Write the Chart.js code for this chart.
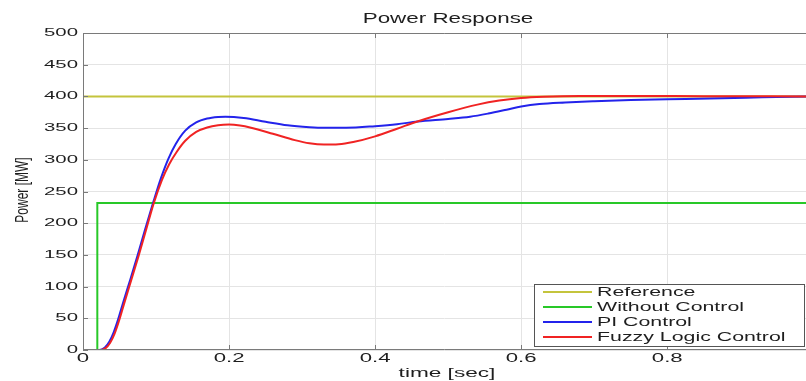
<!DOCTYPE html>
<html>
<head>
<meta charset="utf-8">
<script src="https://cdn.jsdelivr.net/npm/chart.js@4/dist/chart.umd.min.js"></script>
<style>
  body { margin: 0; background: #fff; }
  canvas { display: block; }
</style>
</head>
<body>
<canvas id="powerChart" width="806" height="381"></canvas>
<script>
'use strict';

// series (time in sec, power in MW)
const refTime = [0, 0.99];
const refPower = [400, 400];

const noCtrlTime = [0, 0.0196, 0.0196, 0.99];
const noCtrlPower = [0, 0, 232, 232];

const piTime = [0, 0.022, 0.03, 0.036, 0.042, 0.048, 0.055, 0.065, 0.075, 0.085, 0.097, 0.107, 0.117, 0.127, 0.14,
    0.155, 0.17, 0.185, 0.195, 0.22, 0.25, 0.28, 0.31, 0.33, 0.36, 0.4, 0.43, 0.458, 0.5, 0.53, 0.555, 0.58, 0.6,
    0.625, 0.66, 0.7, 0.75, 0.8, 0.875, 0.93, 0.99];
const piPower = [0, 0, 4, 13, 28, 48, 75, 112, 150, 190, 236, 272, 302, 325, 346,
    359, 365, 367.5, 368, 366, 360, 354.5, 351.5, 350.5, 350.5, 353, 356, 360.5, 364.5, 368, 373, 379, 384,
    388, 390.5, 392.5, 394.5, 395.5, 397, 398.5, 400];

const fuzzyTime = [0, 0.024, 0.031, 0.037, 0.043, 0.049, 0.056, 0.066, 0.076, 0.086, 0.097, 0.108, 0.118, 0.128, 0.14,
    0.155, 0.17, 0.185, 0.2, 0.215, 0.23, 0.26, 0.29, 0.31, 0.33, 0.35, 0.37, 0.4, 0.43, 0.458, 0.5, 0.54, 0.57,
    0.6, 0.63, 0.68, 0.75, 0.85, 0.99];
const fuzzyPower = [0, 0, 3, 11, 25, 45, 72, 110, 148, 188, 232, 268, 293, 312, 330,
    344, 351, 354.5, 355.5, 354, 350.5, 341, 331, 326, 324, 324.5, 328, 337, 349, 360.5, 375, 387, 393.5,
    397.5, 399.5, 400.8, 400.8, 400.2, 400];

const yTickLabels = ['0', '50', '100', '150', '200', '250', '300', '350', '400', '450', '500'];
const xTickLabels = ['0', '0.2', '0.4', '0.6', '0.8'];

const seriesNames = ['Reference', 'Without Control', 'PI Control', 'Fuzzy Logic Control'];
const seriesColors = ['rgb(196, 196, 60)', 'rgb(40, 200, 40)', 'rgb(35, 35, 235)', 'rgb(240, 35, 35)'];

function toPoints(times, values) {
    return times.map((t, i) => ({ x: t, y: values[i] }));
}

const FONT = '"Liberation Sans", Arial, sans-serif';

// text in the source picture is stretched sideways, so draw it scaled
function stretchText(ctx, text, x, y, size, sx, sy, align, rotate) {
    ctx.save();
    ctx.translate(x, y);
    if (rotate) ctx.rotate(rotate);
    ctx.scale(sx, sy);
    ctx.font = size + 'px ' + FONT;
    ctx.textAlign = align;
    ctx.textBaseline = 'middle';
    ctx.fillStyle = '#1e1e1e';
    ctx.fillText(text, 0, 0);
    ctx.restore();
}

const frameAndText = {
    id: 'frameAndText',
    afterDraw(chart) {
        const ctx = chart.ctx;
        const area = chart.chartArea;
        const xs = chart.scales.x;
        const ys = chart.scales.y;

        // axes box and inward ticks
        ctx.save();
        ctx.strokeStyle = '#7a7a7a';
        ctx.lineWidth = 1;
        ctx.beginPath();
        ctx.moveTo(area.right, area.top + 0.5);
        ctx.lineTo(area.left + 0.5, area.top + 0.5);
        ctx.lineTo(area.left + 0.5, area.bottom - 0.5);
        ctx.lineTo(area.right, area.bottom - 0.5);
        for (let i = 0; i < xTickLabels.length; i++) {
            const px = Math.round(xs.getPixelForValue(parseFloat(xTickLabels[i]))) + 0.5;
            ctx.moveTo(px, area.bottom);
            ctx.lineTo(px, area.bottom - 5);
            ctx.moveTo(px, area.top);
            ctx.lineTo(px, area.top + 5);
        }
        for (let i = 0; i < yTickLabels.length; i++) {
            const py = Math.round(ys.getPixelForValue(parseFloat(yTickLabels[i]))) + 0.5;
            ctx.moveTo(area.left, py);
            ctx.lineTo(area.left + 5, py);
        }
        ctx.stroke();
        ctx.restore();

        // tick labels
        for (let i = 0; i < yTickLabels.length; i++) {
            stretchText(ctx, yTickLabels[i], area.left - 5, ys.getPixelForValue(parseFloat(yTickLabels[i])), 11, 1.85, 1, 'right');
        }
        for (let i = 0; i < xTickLabels.length; i++) {
            stretchText(ctx, xTickLabels[i], xs.getPixelForValue(parseFloat(xTickLabels[i])), area.bottom + 9, 12, 1.85, 1, 'center');
        }

        // titles
        stretchText(ctx, 'Power Response', 448, 19, 14, 1.6, 1, 'center');
        stretchText(ctx, 'time [sec]', 447, 373, 13, 1.74, 1, 'center');
        stretchText(ctx, 'Power [MW]', 23, 190, 12, 1, 1.5, 'center', -Math.PI / 2);

        // legend box inside the plot
        const boxLeft = 534, boxTop = 284, boxRight = 804, boxBottom = 346;
        ctx.save();
        ctx.fillStyle = '#fff';
        ctx.fillRect(boxLeft, boxTop, boxRight - boxLeft, boxBottom - boxTop);
        ctx.strokeStyle = '#555';
        ctx.lineWidth = 1;
        ctx.strokeRect(boxLeft + 0.5, boxTop + 0.5, boxRight - boxLeft, boxBottom - boxTop);
        ctx.restore();
        const rowY = [292, 307, 322, 337];
        chart.data.datasets.forEach((ds, i) => {
            ctx.save();
            ctx.strokeStyle = ds.borderColor;
            ctx.lineWidth = 2;
            ctx.beginPath();
            ctx.moveTo(543, rowY[i]);
            ctx.lineTo(592, rowY[i]);
            ctx.stroke();
            ctx.restore();
            stretchText(ctx, ds.label, 597, rowY[i], 13.5, 1.58, 1, 'left');
        });
    }
};

const datasets = [
    { label: seriesNames[0], data: toPoints(refTime, refPower), order: 4, tension: 0 },
    { label: seriesNames[1], data: toPoints(noCtrlTime, noCtrlPower), order: 3, tension: 0 },
    { label: seriesNames[2], data: toPoints(piTime, piPower), order: 2, cubicInterpolationMode: 'monotone' },
    { label: seriesNames[3], data: toPoints(fuzzyTime, fuzzyPower), order: 1, cubicInterpolationMode: 'monotone' },
];
datasets.forEach((ds, i) => {
    ds.borderColor = seriesColors[i];
    ds.backgroundColor = seriesColors[i];
    ds.borderWidth = 2;
    ds.pointRadius = 0;
    ds.fill = false;
});

const config = {
    type: 'line',
    data: { datasets: datasets },
    options: {
        responsive: false,
        animation: false,
        devicePixelRatio: 1,
        layout: { padding: { left: 83, top: 33, right: 0, bottom: 31 } },
        plugins: {
            legend: { display: false },
            title: { display: false },
            tooltip: { enabled: false },
        },
        scales: {
            x: {
                type: 'linear',
                min: 0,
                max: 0.99,
                afterBuildTicks: (scale) => {
                    scale.ticks = xTickLabels.map(v => ({ value: parseFloat(v) }));
                },
                ticks: { display: false },
                grid: { color: 'rgb(228, 228, 228)', drawTicks: false },
                border: { display: false },
            },
            y: {
                min: 0,
                max: 500,
                afterBuildTicks: (scale) => {
                    scale.ticks = yTickLabels.map(v => ({ value: parseFloat(v) }));
                },
                ticks: { display: false },
                grid: { color: 'rgb(228, 228, 228)', drawTicks: false },
                border: { display: false },
            },
        },
    },
    plugins: [frameAndText],
};

const powerChart = new Chart(document.getElementById('powerChart'), config);
</script>
</body>
</html>
